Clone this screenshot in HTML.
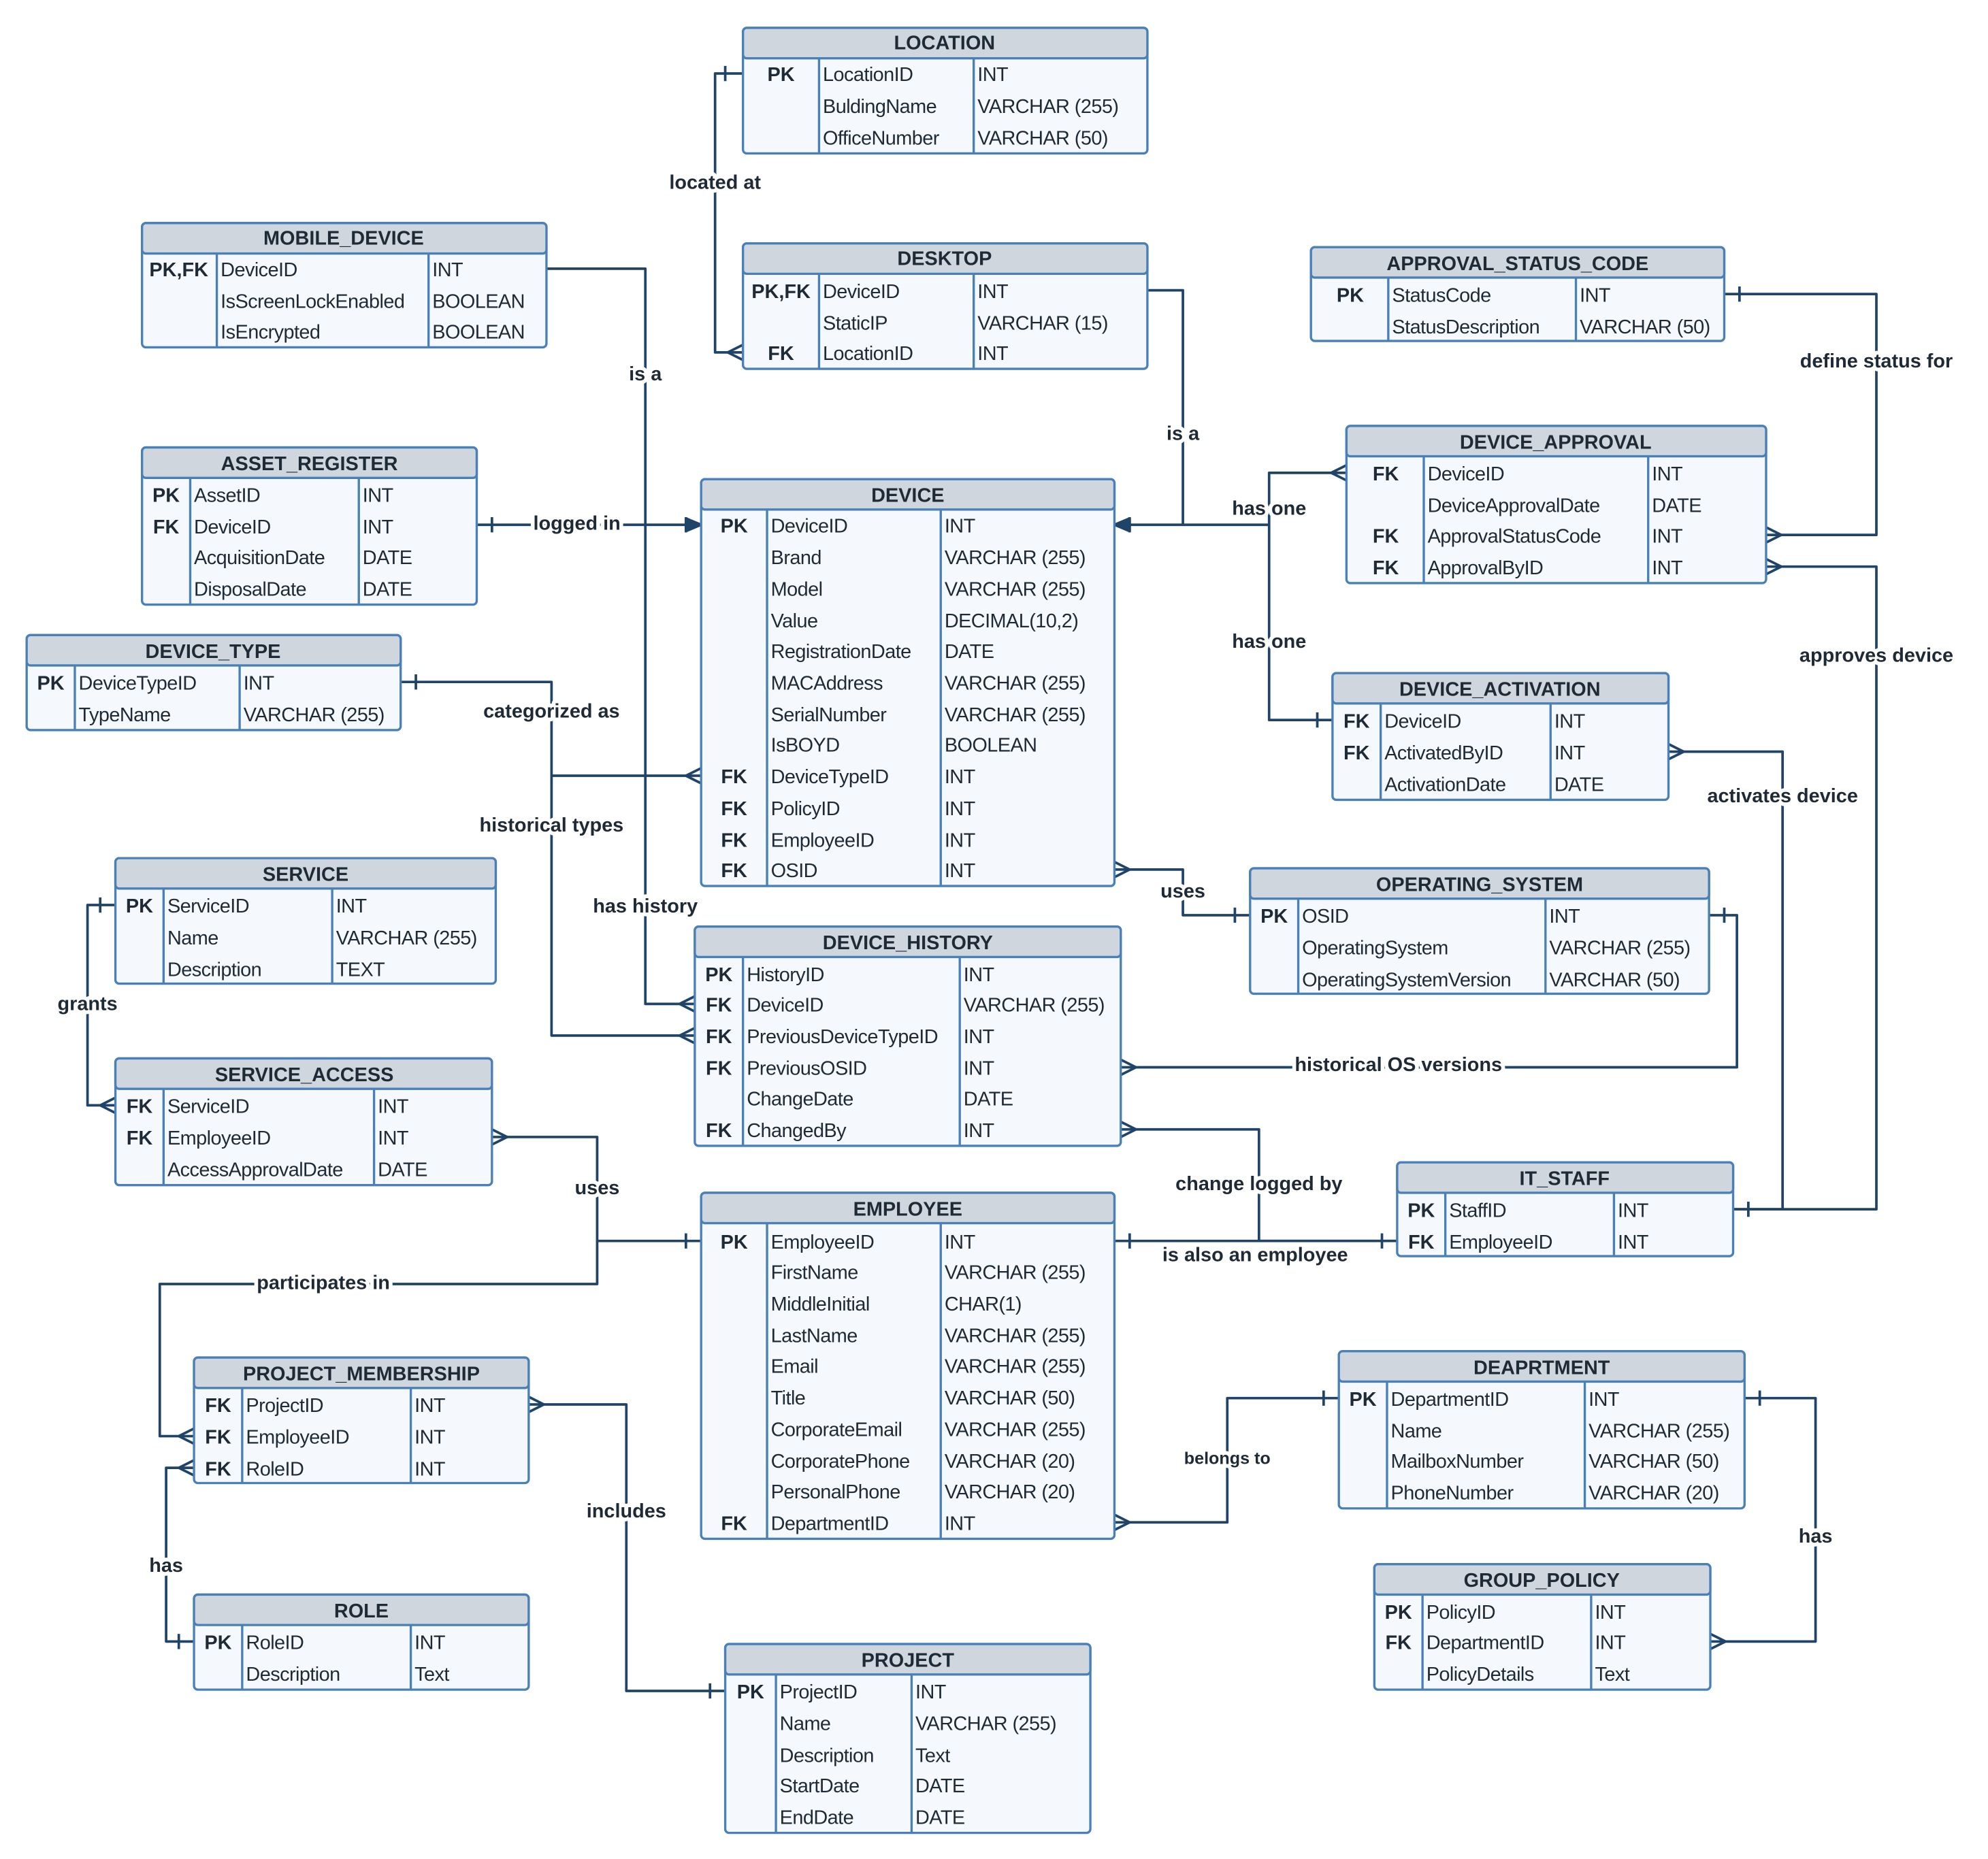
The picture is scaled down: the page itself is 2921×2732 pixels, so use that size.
<!DOCTYPE html>
<html><head><meta charset="utf-8"><style>
html,body{margin:0;padding:0;background:#fff}
svg{display:block}
.h{font:bold 15.5px "Liberation Sans",sans-serif;fill:#1e2a36;text-anchor:middle}
.k{font:bold 15.5px "Liberation Sans",sans-serif;fill:#1e2a36;text-anchor:middle}
.t{font:15.5px "Liberation Sans",sans-serif;fill:#1e2a36;letter-spacing:-0.3px}
.l{font:bold 15.5px "Liberation Sans",sans-serif;fill:#1e2a36;text-anchor:middle;paint-order:stroke;stroke:#fff;stroke-width:6px;stroke-linejoin:round}
.b{fill:#f5f9fd;stroke:#4a80b8;stroke-width:1.8}
.hd{fill:#cfd6de;stroke:#4a80b8;stroke-width:1.8}
.c{stroke:#4a80b8;stroke-width:1.8}
.w{fill:none;stroke:#1f4468;stroke-width:2;stroke-linejoin:round}
</style></head><body>
<svg width="2921" height="2732" viewBox="0 0 1568 1466.6" xmlns="http://www.w3.org/2000/svg">
<!-- connectors -->
<g class="w">
<path d="M586,58 H564 V278 H586"/><path d="M572,52 V64"/><path d="M586,272 L574,278 L586,284"/>
<path d="M431,212 H509 V792 H548"/><path d="M548,786 L536,792 L548,798"/>
<path d="M376,414 H553"/><path d="M388,408 V420"/><path d="M541,408 V420"/><path d="M553,414 L541,409 V419 Z" fill="#1f4468"/>
<path d="M905,229 H933 V414 H879"/><path d="M879,414 L891,409 V419 Z" fill="#1f4468"/><path d="M891,408 V420"/>
<path d="M1062,373 H1001 V568 H1051"/><path d="M1001,414 H933"/><path d="M1062,367 L1050,373 L1062,379"/><path d="M1039,562 V574"/>
<path d="M1360,232 H1480 V422 H1393"/><path d="M1372,226 V238"/><path d="M1393,416 L1405,422 L1393,428"/>
<path d="M1367,954 H1480 V447 H1393"/><path d="M1379,948 V960"/><path d="M1393,441 L1405,447 L1393,453"/>
<path d="M1367,954 H1406 V593 H1316"/><path d="M1316,587 L1328,593 L1316,599"/>
<path d="M316,538 H435 V817 H548"/><path d="M435,612 H553"/><path d="M328,532 V544"/><path d="M553,606 L541,612 L553,618"/><path d="M548,811 L536,817 L548,823"/>
<path d="M879,686 H933 V722 H986"/><path d="M879,680 L891,686 L879,692"/><path d="M974,716 V728"/>
<path d="M1348,722 H1370 V842 H884"/><path d="M1360,716 V728"/><path d="M884,836 L896,842 L884,848"/>
<path d="M884,891 H993 V979 H1102"/><path d="M884,885 L896,891 L884,897"/>
<path d="M879,979 H1102"/><path d="M891,973 V985"/><path d="M1090,973 V985"/>
<path d="M91,714 H69 V872 H91"/><path d="M79,708 V720"/><path d="M91,866 L79,872 L91,878"/>
<path d="M388,897 H471 V979 H553"/><path d="M388,891 L400,897 L388,903"/><path d="M541,973 V985"/>
<path d="M471,979 V1013 H126 V1133 H153"/><path d="M153,1127 L141,1133 L153,1139"/>
<path d="M153,1158 H131 V1295 H153"/><path d="M153,1152 L141,1158 L153,1164"/><path d="M141,1289 V1301"/>
<path d="M417,1108 H494 V1334 H572"/><path d="M417,1102 L429,1108 L417,1114"/><path d="M560,1328 V1340"/>
<path d="M879,1201 H968 V1103 H1056"/><path d="M879,1195 L891,1201 L879,1207"/><path d="M1044,1097 V1109"/>
<path d="M1376,1103 H1432 V1295 H1349"/><path d="M1388,1097 V1109"/><path d="M1349,1289 L1361,1295 L1349,1301"/>
</g>
<!-- labels -->
<text class="l" x="564" y="149">located at</text>
<text class="l" x="509" y="300">is a</text>
<text class="l" x="455" y="418">logged in</text>
<text class="l" x="933" y="347">is a</text>
<text class="l" x="1001" y="406">has one</text>
<text class="l" x="1001" y="511">has one</text>
<text class="l" x="1480" y="290">define status for</text>
<text class="l" x="1480" y="522">approves device</text>
<text class="l" x="1406" y="633">activates device</text>
<text class="l" x="435" y="566">categorized as</text>
<text class="l" x="435" y="656">historical types</text>
<text class="l" x="509" y="720">has history</text>
<text class="l" x="933" y="708">uses</text>
<text class="l" x="1103" y="845">historical OS versions</text>
<text class="l" x="993" y="939">change logged by</text>
<text class="l" x="990" y="995">is also an employee</text>
<text class="l" x="69" y="797">grants</text>
<text class="l" x="471" y="942">uses</text>
<text class="l" x="255" y="1017">participates in</text>
<text class="l" x="131" y="1240">has</text>
<text class="l" x="494" y="1197">includes</text>
<text class="l" x="968" y="1155" style="font-size:13.5px">belongs to</text>
<text class="l" x="1432" y="1217">has</text>

<!-- LOCATION -->
<rect class="b" x="586" y="22" width="319" height="99" rx="3"/><rect class="hd" x="586" y="22" width="319" height="24" rx="3"/>
<line class="c" x1="646" y1="46" x2="646" y2="121"/><line class="c" x1="768" y1="46" x2="768" y2="121"/>
<text class="h" x="745" y="39">LOCATION</text>
<text class="k" x="616" y="64">PK</text><text class="t" x="649" y="64">LocationID</text><text class="t" x="771" y="64">INT</text>
<text class="t" x="649" y="89">BuldingName</text><text class="t" x="771" y="89">VARCHAR (255)</text>
<text class="t" x="649" y="114">OfficeNumber</text><text class="t" x="771" y="114">VARCHAR (50)</text>

<!-- MOBILE_DEVICE -->
<rect class="b" x="112" y="176" width="319" height="98" rx="3"/><rect class="hd" x="112" y="176" width="319" height="24" rx="3"/>
<line class="c" x1="171" y1="200" x2="171" y2="274"/><line class="c" x1="338" y1="200" x2="338" y2="274"/>
<text class="h" x="271" y="193">MOBILE_DEVICE</text>
<text class="k" x="141" y="218">PK,FK</text><text class="t" x="174" y="218">DeviceID</text><text class="t" x="341" y="218">INT</text>
<text class="t" x="174" y="243">IsScreenLockEnabled</text><text class="t" x="341" y="243">BOOLEAN</text>
<text class="t" x="174" y="267">IsEncrypted</text><text class="t" x="341" y="267">BOOLEAN</text>

<!-- DESKTOP -->
<rect class="b" x="586" y="192" width="319" height="99" rx="3"/><rect class="hd" x="586" y="192" width="319" height="24" rx="3"/>
<line class="c" x1="646" y1="216" x2="646" y2="291"/><line class="c" x1="768" y1="216" x2="768" y2="291"/>
<text class="h" x="745" y="209">DESKTOP</text>
<text class="k" x="616" y="235">PK,FK</text><text class="t" x="649" y="235">DeviceID</text><text class="t" x="771" y="235">INT</text>
<text class="t" x="649" y="260">StaticIP</text><text class="t" x="771" y="260">VARCHAR (15)</text>
<text class="k" x="616" y="284">FK</text><text class="t" x="649" y="284">LocationID</text><text class="t" x="771" y="284">INT</text>

<!-- APPROVAL_STATUS_CODE -->
<rect class="b" x="1034" y="195" width="326" height="74" rx="3"/><rect class="hd" x="1034" y="195" width="326" height="24" rx="3"/>
<line class="c" x1="1095" y1="219" x2="1095" y2="269"/><line class="c" x1="1243" y1="219" x2="1243" y2="269"/>
<text class="h" x="1197" y="213">APPROVAL_STATUS_CODE</text>
<text class="k" x="1065" y="238">PK</text><text class="t" x="1098" y="238">StatusCode</text><text class="t" x="1246" y="238">INT</text>
<text class="t" x="1098" y="263">StatusDescription</text><text class="t" x="1246" y="263">VARCHAR (50)</text>

<!-- ASSET_REGISTER -->
<rect class="b" x="112" y="353" width="264" height="124" rx="3"/><rect class="hd" x="112" y="353" width="264" height="24" rx="3"/>
<line class="c" x1="150" y1="377" x2="150" y2="477"/><line class="c" x1="283" y1="377" x2="283" y2="477"/>
<text class="h" x="244" y="371">ASSET_REGISTER</text>
<text class="k" x="131" y="396">PK</text><text class="t" x="153" y="396">AssetID</text><text class="t" x="286" y="396">INT</text>
<text class="k" x="131" y="421">FK</text><text class="t" x="153" y="421">DeviceID</text><text class="t" x="286" y="421">INT</text>
<text class="t" x="153" y="445">AcquisitionDate</text><text class="t" x="286" y="445">DATE</text>
<text class="t" x="153" y="470">DisposalDate</text><text class="t" x="286" y="470">DATE</text>

<!-- DEVICE -->
<rect class="b" x="553" y="378" width="326" height="321" rx="3"/><rect class="hd" x="553" y="378" width="326" height="24" rx="3"/>
<line class="c" x1="605" y1="402" x2="605" y2="699"/><line class="c" x1="742" y1="402" x2="742" y2="699"/>
<text class="h" x="716" y="396">DEVICE</text>
<text class="k" x="579" y="420">PK</text><text class="t" x="608" y="420">DeviceID</text><text class="t" x="745" y="420">INT</text>
<text class="t" x="608" y="445">Brand</text><text class="t" x="745" y="445">VARCHAR (255)</text>
<text class="t" x="608" y="470">Model</text><text class="t" x="745" y="470">VARCHAR (255)</text>
<text class="t" x="608" y="495">Value</text><text class="t" x="745" y="495">DECIMAL(10,2)</text>
<text class="t" x="608" y="519">RegistrationDate</text><text class="t" x="745" y="519">DATE</text>
<text class="t" x="608" y="544">MACAddress</text><text class="t" x="745" y="544">VARCHAR (255)</text>
<text class="t" x="608" y="569">SerialNumber</text><text class="t" x="745" y="569">VARCHAR (255)</text>
<text class="t" x="608" y="593">IsBOYD</text><text class="t" x="745" y="593">BOOLEAN</text>
<text class="k" x="579" y="618">FK</text><text class="t" x="608" y="618">DeviceTypeID</text><text class="t" x="745" y="618">INT</text>
<text class="k" x="579" y="643">FK</text><text class="t" x="608" y="643">PolicyID</text><text class="t" x="745" y="643">INT</text>
<text class="k" x="579" y="668">FK</text><text class="t" x="608" y="668">EmployeeID</text><text class="t" x="745" y="668">INT</text>
<text class="k" x="579" y="692">FK</text><text class="t" x="608" y="692">OSID</text><text class="t" x="745" y="692">INT</text>

<!-- DEVICE_APPROVAL -->
<rect class="b" x="1062" y="336" width="331" height="124" rx="3"/><rect class="hd" x="1062" y="336" width="331" height="24" rx="3"/>
<line class="c" x1="1123" y1="360" x2="1123" y2="460"/><line class="c" x1="1300" y1="360" x2="1300" y2="460"/>
<text class="h" x="1227" y="354">DEVICE_APPROVAL</text>
<text class="k" x="1093" y="379">FK</text><text class="t" x="1126" y="379">DeviceID</text><text class="t" x="1303" y="379">INT</text>
<text class="t" x="1126" y="404">DeviceApprovalDate</text><text class="t" x="1303" y="404">DATE</text>
<text class="k" x="1093" y="428">FK</text><text class="t" x="1126" y="428">ApprovalStatusCode</text><text class="t" x="1303" y="428">INT</text>
<text class="k" x="1093" y="453">FK</text><text class="t" x="1126" y="453">ApprovalByID</text><text class="t" x="1303" y="453">INT</text>

<!-- DEVICE_TYPE -->
<rect class="b" x="21" y="501" width="295" height="75" rx="3"/><rect class="hd" x="21" y="501" width="295" height="24" rx="3"/>
<line class="c" x1="59" y1="525" x2="59" y2="576"/><line class="c" x1="189" y1="525" x2="189" y2="576"/>
<text class="h" x="168" y="519">DEVICE_TYPE</text>
<text class="k" x="40" y="544">PK</text><text class="t" x="62" y="544">DeviceTypeID</text><text class="t" x="192" y="544">INT</text>
<text class="t" x="62" y="569">TypeName</text><text class="t" x="192" y="569">VARCHAR (255)</text>

<!-- DEVICE_ACTIVATION -->
<rect class="b" x="1051" y="531" width="265" height="100" rx="3"/><rect class="hd" x="1051" y="531" width="265" height="24" rx="3"/>
<line class="c" x1="1089" y1="555" x2="1089" y2="631"/><line class="c" x1="1223" y1="555" x2="1223" y2="631"/>
<text class="h" x="1183" y="549">DEVICE_ACTIVATION</text>
<text class="k" x="1070" y="574">FK</text><text class="t" x="1092" y="574">DeviceID</text><text class="t" x="1226" y="574">INT</text>
<text class="k" x="1070" y="599">FK</text><text class="t" x="1092" y="599">ActivatedByID</text><text class="t" x="1226" y="599">INT</text>
<text class="t" x="1092" y="624">ActivationDate</text><text class="t" x="1226" y="624">DATE</text>

<!-- SERVICE -->
<rect class="b" x="91" y="677" width="300" height="99" rx="3"/><rect class="hd" x="91" y="677" width="300" height="24" rx="3"/>
<line class="c" x1="129" y1="701" x2="129" y2="776"/><line class="c" x1="262" y1="701" x2="262" y2="776"/>
<text class="h" x="241" y="695">SERVICE</text>
<text class="k" x="110" y="720">PK</text><text class="t" x="132" y="720">ServiceID</text><text class="t" x="265" y="720">INT</text>
<text class="t" x="132" y="745">Name</text><text class="t" x="265" y="745">VARCHAR (255)</text>
<text class="t" x="132" y="770">Description</text><text class="t" x="265" y="770">TEXT</text>

<!-- OPERATING_SYSTEM -->
<rect class="b" x="986" y="685" width="362" height="99" rx="3"/><rect class="hd" x="986" y="685" width="362" height="24" rx="3"/>
<line class="c" x1="1024" y1="709" x2="1024" y2="784"/><line class="c" x1="1219" y1="709" x2="1219" y2="784"/>
<text class="h" x="1167" y="703">OPERATING_SYSTEM</text>
<text class="k" x="1005" y="728">PK</text><text class="t" x="1027" y="728">OSID</text><text class="t" x="1222" y="728">INT</text>
<text class="t" x="1027" y="753">OperatingSystem</text><text class="t" x="1222" y="753">VARCHAR (255)</text>
<text class="t" x="1027" y="778">OperatingSystemVersion</text><text class="t" x="1222" y="778">VARCHAR (50)</text>

<!-- DEVICE_HISTORY -->
<rect class="b" x="548" y="731" width="336" height="173" rx="3"/><rect class="hd" x="548" y="731" width="336" height="24" rx="3"/>
<line class="c" x1="586" y1="755" x2="586" y2="904"/><line class="c" x1="757" y1="755" x2="757" y2="904"/>
<text class="h" x="716" y="749">DEVICE_HISTORY</text>
<text class="k" x="567" y="774">PK</text><text class="t" x="589" y="774">HistoryID</text><text class="t" x="760" y="774">INT</text>
<text class="k" x="567" y="798">FK</text><text class="t" x="589" y="798">DeviceID</text><text class="t" x="760" y="798">VARCHAR (255)</text>
<text class="k" x="567" y="823">FK</text><text class="t" x="589" y="823">PreviousDeviceTypeID</text><text class="t" x="760" y="823">INT</text>
<text class="k" x="567" y="848">FK</text><text class="t" x="589" y="848">PreviousOSID</text><text class="t" x="760" y="848">INT</text>
<text class="t" x="589" y="872">ChangeDate</text><text class="t" x="760" y="872">DATE</text>
<text class="k" x="567" y="897">FK</text><text class="t" x="589" y="897">ChangedBy</text><text class="t" x="760" y="897">INT</text>

<!-- SERVICE_ACCESS -->
<rect class="b" x="91" y="835" width="297" height="100" rx="3"/><rect class="hd" x="91" y="835" width="297" height="24" rx="3"/>
<line class="c" x1="129" y1="859" x2="129" y2="935"/><line class="c" x1="295" y1="859" x2="295" y2="935"/>
<text class="h" x="240" y="853">SERVICE_ACCESS</text>
<text class="k" x="110" y="878">FK</text><text class="t" x="132" y="878">ServiceID</text><text class="t" x="298" y="878">INT</text>
<text class="k" x="110" y="903">FK</text><text class="t" x="132" y="903">EmployeeID</text><text class="t" x="298" y="903">INT</text>
<text class="t" x="132" y="928">AccessApprovalDate</text><text class="t" x="298" y="928">DATE</text>

<!-- IT_STAFF -->
<rect class="b" x="1102" y="917" width="265" height="74" rx="3"/><rect class="hd" x="1102" y="917" width="265" height="24" rx="3"/>
<line class="c" x1="1140" y1="941" x2="1140" y2="991"/><line class="c" x1="1273" y1="941" x2="1273" y2="991"/>
<text class="h" x="1234" y="935">IT_STAFF</text>
<text class="k" x="1121" y="960">PK</text><text class="t" x="1143" y="960">StaffID</text><text class="t" x="1276" y="960">INT</text>
<text class="k" x="1121" y="985">FK</text><text class="t" x="1143" y="985">EmployeeID</text><text class="t" x="1276" y="985">INT</text>

<!-- EMPLOYEE -->
<rect class="b" x="553" y="941" width="326" height="273" rx="3"/><rect class="hd" x="553" y="941" width="326" height="24" rx="3"/>
<line class="c" x1="605" y1="965" x2="605" y2="1214"/><line class="c" x1="742" y1="965" x2="742" y2="1214"/>
<text class="h" x="716" y="959">EMPLOYEE</text>
<text class="k" x="579" y="985">PK</text><text class="t" x="608" y="985">EmployeeID</text><text class="t" x="745" y="985">INT</text>
<text class="t" x="608" y="1009">FirstName</text><text class="t" x="745" y="1009">VARCHAR (255)</text>
<text class="t" x="608" y="1034">MiddleInitial</text><text class="t" x="745" y="1034">CHAR(1)</text>
<text class="t" x="608" y="1059">LastName</text><text class="t" x="745" y="1059">VARCHAR (255)</text>
<text class="t" x="608" y="1083">Email</text><text class="t" x="745" y="1083">VARCHAR (255)</text>
<text class="t" x="608" y="1108">Title</text><text class="t" x="745" y="1108">VARCHAR (50)</text>
<text class="t" x="608" y="1133">CorporateEmail</text><text class="t" x="745" y="1133">VARCHAR (255)</text>
<text class="t" x="608" y="1158">CorporatePhone</text><text class="t" x="745" y="1158">VARCHAR (20)</text>
<text class="t" x="608" y="1182">PersonalPhone</text><text class="t" x="745" y="1182">VARCHAR (20)</text>
<text class="k" x="579" y="1207">FK</text><text class="t" x="608" y="1207">DepartmentID</text><text class="t" x="745" y="1207">INT</text>

<!-- DEAPRTMENT -->
<rect class="b" x="1056" y="1066" width="320" height="124" rx="3"/><rect class="hd" x="1056" y="1066" width="320" height="24" rx="3"/>
<line class="c" x1="1094" y1="1090" x2="1094" y2="1190"/><line class="c" x1="1250" y1="1090" x2="1250" y2="1190"/>
<text class="h" x="1216" y="1084">DEAPRTMENT</text>
<text class="k" x="1075" y="1109">PK</text><text class="t" x="1097" y="1109">DepartmentID</text><text class="t" x="1253" y="1109">INT</text>
<text class="t" x="1097" y="1134">Name</text><text class="t" x="1253" y="1134">VARCHAR (255)</text>
<text class="t" x="1097" y="1158">MailboxNumber</text><text class="t" x="1253" y="1158">VARCHAR (50)</text>
<text class="t" x="1097" y="1183">PhoneNumber</text><text class="t" x="1253" y="1183">VARCHAR (20)</text>

<!-- PROJECT_MEMBERSHIP -->
<rect class="b" x="153" y="1071" width="264" height="99" rx="3"/><rect class="hd" x="153" y="1071" width="264" height="24" rx="3"/>
<line class="c" x1="191" y1="1095" x2="191" y2="1170"/><line class="c" x1="324" y1="1095" x2="324" y2="1170"/>
<text class="h" x="285" y="1089">PROJECT_MEMBERSHIP</text>
<text class="k" x="172" y="1114">FK</text><text class="t" x="194" y="1114">ProjectID</text><text class="t" x="327" y="1114">INT</text>
<text class="k" x="172" y="1139">FK</text><text class="t" x="194" y="1139">EmployeeID</text><text class="t" x="327" y="1139">INT</text>
<text class="k" x="172" y="1164">FK</text><text class="t" x="194" y="1164">RoleID</text><text class="t" x="327" y="1164">INT</text>

<!-- GROUP_POLICY -->
<rect class="b" x="1084" y="1234" width="265" height="99" rx="3"/><rect class="hd" x="1084" y="1234" width="265" height="24" rx="3"/>
<line class="c" x1="1122" y1="1258" x2="1122" y2="1333"/><line class="c" x1="1255" y1="1258" x2="1255" y2="1333"/>
<text class="h" x="1216" y="1252">GROUP_POLICY</text>
<text class="k" x="1103" y="1277">PK</text><text class="t" x="1125" y="1277">PolicyID</text><text class="t" x="1258" y="1277">INT</text>
<text class="k" x="1103" y="1301">FK</text><text class="t" x="1125" y="1301">DepartmentID</text><text class="t" x="1258" y="1301">INT</text>
<text class="t" x="1125" y="1326">PolicyDetails</text><text class="t" x="1258" y="1326">Text</text>

<!-- ROLE -->
<rect class="b" x="153" y="1258" width="264" height="75" rx="3"/><rect class="hd" x="153" y="1258" width="264" height="24" rx="3"/>
<line class="c" x1="191" y1="1282" x2="191" y2="1333"/><line class="c" x1="324" y1="1282" x2="324" y2="1333"/>
<text class="h" x="285" y="1276">ROLE</text>
<text class="k" x="172" y="1301">PK</text><text class="t" x="194" y="1301">RoleID</text><text class="t" x="327" y="1301">INT</text>
<text class="t" x="194" y="1326">Description</text><text class="t" x="327" y="1326">Text</text>

<!-- PROJECT -->
<rect class="b" x="572" y="1297" width="288" height="149" rx="3"/><rect class="hd" x="572" y="1297" width="288" height="24" rx="3"/>
<line class="c" x1="612" y1="1321" x2="612" y2="1446"/><line class="c" x1="719" y1="1321" x2="719" y2="1446"/>
<text class="h" x="716" y="1315">PROJECT</text>
<text class="k" x="592" y="1340">PK</text><text class="t" x="615" y="1340">ProjectID</text><text class="t" x="722" y="1340">INT</text>
<text class="t" x="615" y="1365">Name</text><text class="t" x="722" y="1365">VARCHAR (255)</text>
<text class="t" x="615" y="1390">Description</text><text class="t" x="722" y="1390">Text</text>
<text class="t" x="615" y="1414">StartDate</text><text class="t" x="722" y="1414">DATE</text>
<text class="t" x="615" y="1439">EndDate</text><text class="t" x="722" y="1439">DATE</text>
</svg>
</body></html>
